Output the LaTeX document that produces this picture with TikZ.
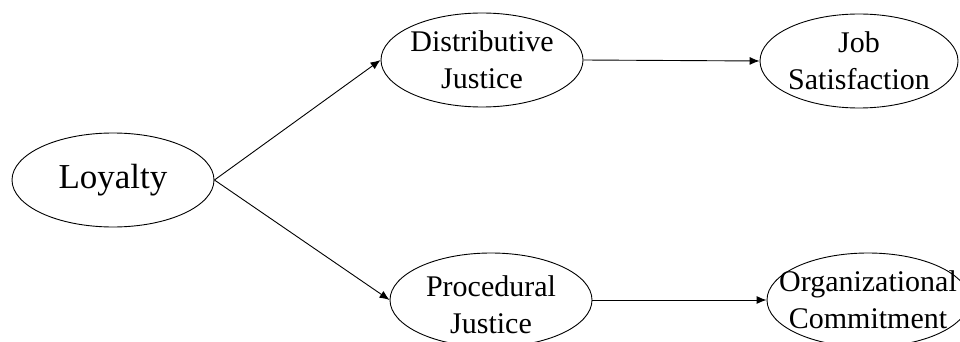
\documentclass[tikz,border=0pt]{standalone}
\usepackage{fontspec}
\setmainfont{Liberation Serif}
\usetikzlibrary{shapes.geometric,arrows.meta}
\begin{document}
\begin{tikzpicture}[x=1pt,y=-1pt,
  oval/.style={draw,ellipse,line width=0.9pt,inner sep=0pt,minimum width=202pt,minimum height=94pt},
  lbl/.style={align=center,inner sep=0pt,font=\fontsize{30}{37}\selectfont},
  conn/.style={line width=0.9pt,-{Latex[length=10pt,width=8pt]}}]
\useasboundingbox (0,0) rectangle (960,342);
\node[oval] (loy) at (113,180) {};
\node[oval] (dist) at (482,60) {};
\node[oval] (proc) at (491,300) {};
\node[oval,minimum width=198pt] (job) at (859,61) {};
\node[oval] (org) at (868,300) {};
\node[lbl,font=\fontsize{35}{40}\selectfont] (tloy) at (loy.center) {Loyalty};
\node[lbl] (tdist) at (dist.center) {Distributive\\Justice};
\node[lbl] (tproc) at ([yshift=-5pt]proc.center) {Procedural\\Justice};
\node[lbl] (tjob) at (job.center) {Job\\Satisfaction};
\node[lbl] (torg) at (org.center) {Organizational\\Commitment};
\draw[conn] (loy.east) -- (dist.west);
\draw[conn] (loy.east) -- (proc.west);
\draw[conn] (dist.east) -- (job.west);
\draw[conn] (proc.east) -- (org.west);
\end{tikzpicture}
\end{document}
